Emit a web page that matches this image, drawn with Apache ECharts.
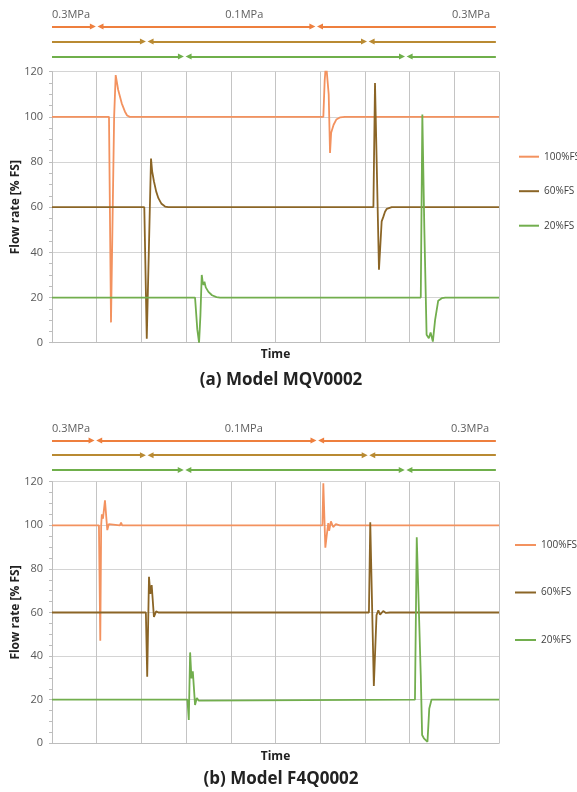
<!DOCTYPE html>
<html><head><meta charset="utf-8">
<script src="https://cdn.jsdelivr.net/npm/echarts@6/dist/echarts.min.js"></script>
<style>html,body{margin:0;padding:0;background:#fff}#c{width:577px;height:792px}</style>
</head><body><div id="c"></div>
<script>
// ---------- data ----------
const seriesNames = ['100%FS', '60%FS', '20%FS'];
const panelTitles = ['(a) Model MQV0002', '(b) Model F4Q0002'];
const pressureLabels = ['0.3MPa', '0.1MPa', '0.3MPa'];
const pressureLabelTimesA = [0, 4.3, 9.8];
const pressureLabelTimesB = [0, 4.29, 9.78];
const yMin = 0, yMax = 120, yInterval = 20;
const timeMin = 0, timeMax = 10, timeInterval = 1;

// pressure switching times (time units) for each series row
const switchA = [[1.0, 5.91], [2.12, 7.065], [2.97, 7.915]];
const switchB = [[0.97, 5.935], [2.12, 7.08], [2.965, 7.91]];
const arrowEnd = 9.93;

// (a) Model MQV0002
const a100 = [[0,100],[1.275,100],[1.32,9],[1.39,100],[1.425,118.5],[1.48,112],[1.56,106],[1.63,102.4],[1.68,100.6],[1.71,101.3],[1.74,100],
  [6.07,100],[6.1,116],[6.13,124],[6.16,124],[6.19,110],[6.22,84],[6.245,93],[6.27,92.5],[6.3,96.5],[6.36,98.8],[6.45,99.8],[6.55,100],[10,100]];
const a60 = [[0,60],[2.065,60],[2.12,1.8],[2.215,81.5],[2.24,76],[2.28,71.5],[2.33,67],[2.38,64],[2.45,61.5],[2.53,60.3],[2.6,60],
  [7.19,60],[7.226,115],[7.315,32.3],[7.375,53.7],[7.41,55.6],[7.45,58],[7.49,59.3],[7.6,60],[10,60]];
const a20 = [[0,20],[3.2,20],[3.25,6],[3.29,0],[3.32,12],[3.35,30],[3.37,27],[3.39,25.5],[3.41,27],[3.44,24.5],[3.5,22.5],[3.58,21],[3.68,20.2],[3.76,20],
  [8.25,20],[8.285,101],[8.33,50],[8.38,3.5],[8.43,2],[8.47,4.5],[8.52,0.5],[8.57,10],[8.64,18.6],[8.72,19.7],[8.8,20],[10,20]];

// (b) Model F4Q0002
const b100 = [[0,100],[1.05,100],[1.08,47],[1.1,100],[1.115,105],[1.14,103],[1.185,111.5],[1.237,97.8],[1.27,100.5],[1.3,100],[1.52,100],[1.545,101.2],[1.57,100],
  [6.05,100],[6.07,119.3],[6.115,89.7],[6.15,96],[6.18,101],[6.2,97.5],[6.24,101.8],[6.29,99.2],[6.35,100.5],[6.44,100],[10,100]];
const b60 = [[0,60],[2.10,60],[2.13,30.5],[2.17,76.4],[2.2,68.5],[2.23,72.6],[2.28,58],[2.33,60.5],[2.38,60],
  [7.09,60],[7.12,101.4],[7.2,26.3],[7.26,58.8],[7.3,61],[7.34,59],[7.41,60.7],[7.47,59.8],[7.56,60],[10,60]];
const b20 = [[0,20],[3.03,20],[3.06,10.7],[3.09,41.7],[3.12,29.8],[3.15,33],[3.2,17.6],[3.24,20.8],[3.28,19.6],[3.32,20],
  [8.12,20],[8.16,94.5],[8.25,31],[8.28,3.8],[8.32,2.3],[8.36,3.2],[8.40,0.7],[8.44,16],[8.49,20],[10,20]];

// ---------- style ----------
const FONT = '"Open Sans", "Noto Sans", sans-serif';
const lineColors = ['#F3925F', '#8B6526', '#72AE4E'];
const arrowColors = ['#EE7F3E', '#B98A32', '#6FAF4B'];
const rowY = [2.5, 1.5, 0.5];
const labelY = 3.25;
const gap = 0.085;

const chart = echarts.init(document.getElementById('c'), null, {renderer: 'canvas'});

function arrowSeries(gridAxis, switches) {
  return switches.map((sw, i) => {
    const y = rowY[i];
    const pts = [[timeMin, sw[0] - gap], [sw[0] + gap, sw[1] - gap], [sw[1] + gap, arrowEnd]];
    const syms = [['none', 'triangle'], ['triangle', 'triangle'], ['triangle', 'none']];
    return {
      type: 'line', xAxisIndex: gridAxis, yAxisIndex: gridAxis, data: [], silent: true,
      markLine: {
        silent: true, animation: false,
        symbolSize: [6, 6],
        label: {show: false},
        lineStyle: {color: arrowColors[i], width: 1.8, type: 'solid'},
        emphasis: {disabled: true},
        data: pts.map((p, k) => [
          {coord: [p[0], y], symbol: syms[k][0]},
          {coord: [p[1], y], symbol: syms[k][1]}
        ])
      }
    };
  });
}

function labelSeries(gridAxis, times) {
  const pos = ['right', 'inside', 'left'];
  return {
    type: 'scatter', xAxisIndex: gridAxis, yAxisIndex: gridAxis, symbolSize: 0, silent: true,
    data: times.map((t, i) => ({value: [t, labelY], label: {position: pos[i], distance: 0}})),
    label: {show: true, formatter: p => pressureLabels[p.dataIndex], fontSize: 11, color: '#333', fontFamily: FONT}
  };
}

function dataSeries(axisIdx, arrs) {
  return arrs.map((d, i) => ({
    type: 'line', name: seriesNames[i], xAxisIndex: axisIdx, yAxisIndex: axisIdx,
    data: d, showSymbol: false, symbol: 'none', clip: true,
    lineStyle: {width: 1.8, color: lineColors[i]}, itemStyle: {color: lineColors[i]},
    emphasis: {disabled: true}
  }));
}

function arrowX(g) { return {gridIndex: g, type: 'value', min: timeMin, max: timeMax, show: false}; }
function arrowYAxis(g) { return {gridIndex: g, type: 'value', min: 0, max: 4, show: false}; }
function plotX(g, gapName) {
  return {
    gridIndex: g, type: 'value', min: timeMin, max: timeMax, interval: timeInterval,
    axisLabel: {show: false}, axisTick: {show: false},
    axisLine: {show: true, lineStyle: {color: '#bdbdbd'}},
    splitLine: {show: true, lineStyle: {color: '#c4c4c4', width: 1}},
    name: 'Time', nameLocation: 'middle', nameGap: gapName,
    nameTextStyle: {fontWeight: 'bold', fontSize: 12, color: '#222', fontFamily: FONT}
  };
}
function plotY(g) {
  return {
    gridIndex: g, type: 'value', min: yMin, max: yMax, interval: yInterval,
    axisLine: {show: true, lineStyle: {color: '#bdbdbd'}},
    axisTick: {show: true, length: 3, lineStyle: {color: '#bdbdbd'}},
    minorTick: {show: true, splitNumber: 4, length: 3, lineStyle: {color: '#bdbdbd'}},
    axisLabel: {fontSize: 11, color: '#595959', margin: 9, fontFamily: FONT},
    splitLine: {show: true, lineStyle: {color: '#d4d4d4', width: 1}},
    name: 'Flow rate [% FS]', nameLocation: 'middle', nameGap: 30, nameMoveOverlap: false,
    nameTextStyle: {fontWeight: 'bold', fontSize: 12, color: '#222', fontFamily: FONT}
  };
}

const gridBase = {left: 52, right: 78, outerBoundsMode: 'none', containLabel: false};
const option = {
  animation: false,
  backgroundColor: '#fff',
  grid: [
    Object.assign({}, gridBase, {top: 3.9, height: 60}),
    Object.assign({}, gridBase, {top: 71.7, height: 271}),
    Object.assign({}, gridBase, {top: 418.2, height: 59.2}),
    Object.assign({}, gridBase, {top: 481.7, height: 261.6})
  ],
  xAxis: [arrowX(0), plotX(1, 6), arrowX(2), plotX(3, 7)],
  yAxis: [arrowYAxis(0), plotY(1), arrowYAxis(2), plotY(3)],
  title: [
    {text: panelTitles[0], left: 276, top: 367, textAlign: 'center',
      textStyle: {fontSize: 17, fontWeight: 'bold', color: '#222', fontFamily: FONT}},
    {text: panelTitles[1], left: 276, top: 766, textAlign: 'center',
      textStyle: {fontSize: 17, fontWeight: 'bold', color: '#222', fontFamily: FONT}}
  ],
  legend: [
    {data: seriesNames, orient: 'vertical', left: 519, top: 149.7, padding: 0, itemGap: 20.5,
      icon: 'rect', itemWidth: 20, itemHeight: 2, selectedMode: false,
      textStyle: {fontSize: 10, color: '#404040', lineHeight: 14, fontFamily: FONT}},
    {data: seriesNames, orient: 'vertical', left: 515, top: 538, padding: 0, itemGap: 33.5,
      icon: 'rect', itemWidth: 21, itemHeight: 2, selectedMode: false,
      textStyle: {fontSize: 10, color: '#404040', lineHeight: 14, fontFamily: FONT}}
  ],
  series: [
    ...arrowSeries(0, switchA), labelSeries(0, pressureLabelTimesA),
    ...dataSeries(1, [a100, a60, a20]),
    ...arrowSeries(2, switchB), labelSeries(2, pressureLabelTimesB),
    ...dataSeries(3, [b100, b60, b20])
  ]
};
chart.setOption(option);
</script></body></html>
